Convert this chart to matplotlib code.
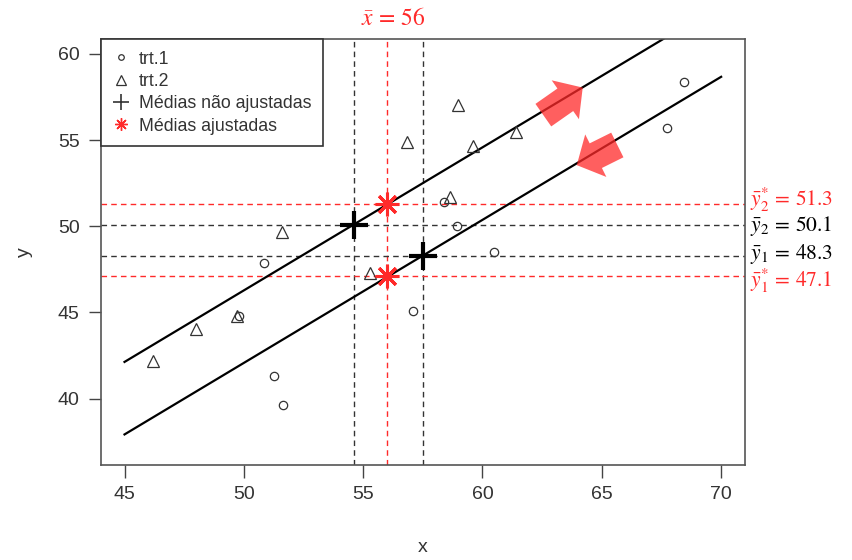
import matplotlib.pyplot as plt
import matplotlib.transforms as mtransforms
import numpy as np

plt.rcParams['font.family'] = ['Liberation Sans', 'DejaVu Sans']
plt.rcParams['mathtext.fontset'] = 'stix'

trt1_x = [68.45, 67.73, 58.95, 58.40, 60.50, 57.10, 50.84, 49.80, 51.26, 51.64]
trt1_y = [58.37, 55.70, 50.00, 51.40, 48.50, 45.06, 47.85, 44.80, 41.30, 39.65]
trt2_x = [58.65, 55.30, 51.60, 47.98, 49.70, 46.18, 58.99, 56.85, 59.60, 61.40]
trt2_y = [51.70, 47.30, 49.65, 44.07, 44.77, 42.20, 57.03, 54.88, 54.65, 55.47]

# group means, overall mean of x, adjusted means, common slope
xbar_grp = [57.5, 54.6]      # trt.1, trt.2
ybar_grp = [48.3, 50.1]
xbar = 56
ybar_adj = [47.1, 51.3]
slope = 0.83
x_range = [45, 70]

red = '#ff2a2a'
dark = '#333333'

fig = plt.figure(figsize=(8.53, 5.6), dpi=100)
ax = fig.add_axes([0.118, 0.1696, 0.7554, 0.7608])

# reference dashed lines
for xv in xbar_grp:
    ax.axvline(xv, color=dark, lw=1, ls=(0, (4, 3)), zorder=1)
ax.axvline(xbar, color=red, lw=1, ls=(0, (4, 3)), zorder=1)
for yv in ybar_grp:
    ax.axhline(yv, color=dark, lw=1, ls=(0, (4, 3)), zorder=1)
for yv in ybar_adj:
    ax.axhline(yv, color=red, lw=1, ls=(0, (4, 3)), zorder=1)

# parallel regression lines
xx = np.array(x_range, dtype=float)
for xm, ym in zip(xbar_grp, ybar_grp):
    ax.plot(xx, ym + slope * (xx - xm), color='black', lw=1.6, zorder=2)

# points
ax.plot(trt1_x, trt1_y, ls='none', marker='o', ms=6, mfc='none', mec=dark, mew=0.9, zorder=3)
ax.plot(trt2_x, trt2_y, ls='none', marker='^', ms=8, mfc='none', mec=dark, mew=0.9, zorder=3)

# unadjusted and adjusted means
ax.plot(xbar_grp, ybar_grp, ls='none', marker='+', ms=20, mew=3, color='black', zorder=5)
ax.plot([xbar, xbar], ybar_adj, ls='none', marker=(8, 2, 0), ms=17, mew=2.2, color=red, zorder=5)

# fat arrows showing the adjustment direction
arrow_style = 'simple,head_length=0.85,head_width=1.9,tail_width=1.1'
ax.annotate('', xy=(64.2, 58.05), xytext=(62.55, 56.45),
            arrowprops=dict(arrowstyle=arrow_style, mutation_scale=18, color=red,
                            alpha=0.75, lw=0, shrinkA=0, shrinkB=0), zorder=4)
ax.annotate('', xy=(63.95, 53.55), xytext=(65.65, 54.72),
            arrowprops=dict(arrowstyle=arrow_style, mutation_scale=18, color=red,
                            alpha=0.75, lw=0, shrinkA=0, shrinkB=0), zorder=4)

ax.set_xlim(44, 71)
ax.set_ylim(36.15, 60.87)
ax.set_xticks([45, 50, 55, 60, 65, 70])
ax.set_yticks([40, 45, 50, 55, 60])
ax.tick_params(length=9, width=1, color='#444444', labelsize=14, labelcolor=dark, pad=6)
for s in ax.spines.values():
    s.set_color('#555555')
    s.set_linewidth(1.2)
ax.set_xlabel('x', fontsize=14, color=dark, labelpad=26)
ax.set_ylabel('y', fontsize=14, color=dark, labelpad=18)

# labels outside the box
tr_top = mtransforms.blended_transform_factory(ax.transData, ax.transAxes)
ax.text(xbar + 0.25, 1.02, r'$\bar{x}\,=\,56$', transform=tr_top, color=red, fontsize=17,
        ha='center', va='bottom', clip_on=False)
right_labels = [(ybar_adj[1], r'$\bar{y}_2^{*}\,=\,51.3$', red, 3),
                (ybar_grp[1], r'$\bar{y}_2\,=\,50.1$', 'black', -1),
                (ybar_grp[0], r'$\bar{y}_1\,=\,48.3$', 'black', 1),
                (ybar_adj[0], r'$\bar{y}_1^{*}\,=\,47.1$', red, -3)]
for yv, txt, col, dy in right_labels:
    tr = mtransforms.blended_transform_factory(ax.transAxes, ax.transData) + \
        mtransforms.ScaledTranslation(0, dy / 72, fig.dpi_scale_trans)
    ax.text(1.008, yv, txt, transform=tr, color=col, fontsize=15.5,
            ha='left', va='center', clip_on=False)

# legend
h1, = ax.plot([], [], ls='none', marker='o', ms=4, mfc='none', mec=dark, mew=0.9)
h2, = ax.plot([], [], ls='none', marker='^', ms=7, mfc='none', mec=dark, mew=0.9)
h3, = ax.plot([], [], ls='none', marker='+', ms=11, mew=1.2, color=dark)
h4, = ax.plot([], [], ls='none', marker=(8, 2, 0), ms=9, mew=1.0, color=red)
leg = ax.legend([h1, h2, h3, h4], ['trt.1', 'trt.2', 'Médias não ajustadas', 'Médias ajustadas'],
                loc='upper left', bbox_to_anchor=(0, 1), borderaxespad=0, fancybox=False,
                framealpha=1, edgecolor='#333333', fontsize=12.8, handlelength=1.0,
                handletextpad=0.5, labelspacing=0.3, borderpad=0.65)
leg.get_frame().set_linewidth(1.2)
for t in leg.get_texts():
    t.set_color(dark)

fig.savefig('out.png', dpi=100)
